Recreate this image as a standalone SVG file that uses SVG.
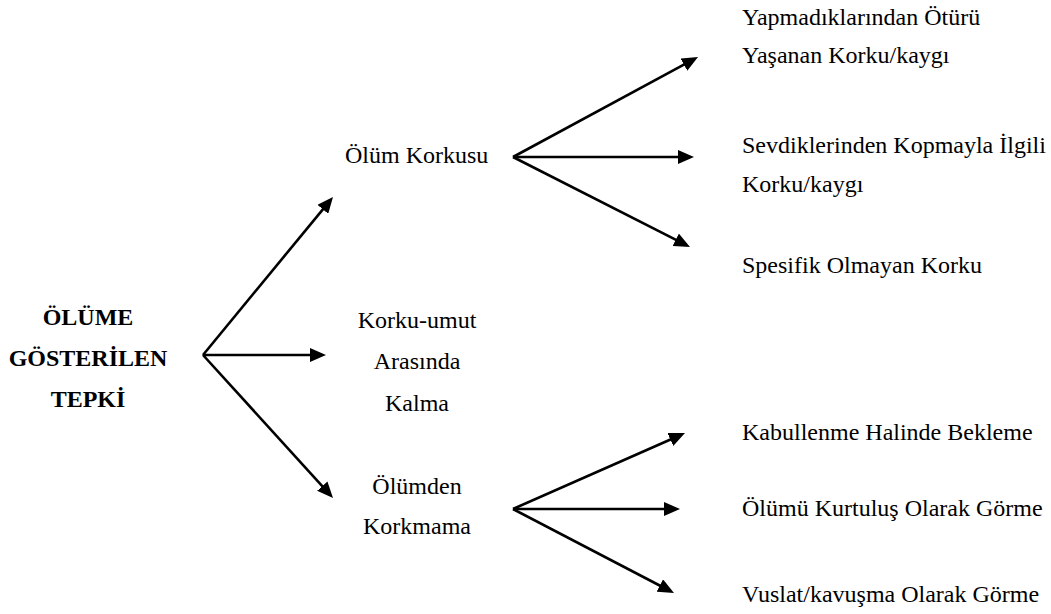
<svg xmlns="http://www.w3.org/2000/svg" width="1051" height="614" viewBox="0 0 1051 614">
<style>
text{font-family:"Liberation Serif","Times New Roman",serif;font-size:24px;fill:#000}
.b{font-weight:bold}
.c{text-anchor:middle}
.ln{stroke:#000;stroke-width:2.6;fill:none;marker-end:url(#ah)}
</style>
<defs>
<marker id="ah" markerUnits="userSpaceOnUse" markerWidth="16" markerHeight="14" refX="2" refY="7" orient="auto">
<path d="M0,0 L16,7 L0,14 z" fill="#000"/>
</marker>
</defs>
<rect width="1051" height="614" fill="#fff"/>
<g id="connectors">
<line class="ln" x1="203" y1="355" x2="324.1" y2="207.8"/>
<line class="ln" x1="203" y1="355" x2="312" y2="355"/>
<line class="ln" x1="203" y1="355" x2="323.6" y2="487.6"/>
<line class="ln" x1="513" y1="157" x2="685.7" y2="63.7"/>
<line class="ln" x1="513" y1="157" x2="680" y2="157"/>
<line class="ln" x1="513" y1="157" x2="677.5" y2="240.7"/>
<line class="ln" x1="513" y1="509" x2="672.2" y2="438.7"/>
<line class="ln" x1="513" y1="509" x2="666" y2="509"/>
<line class="ln" x1="513" y1="509" x2="661.6" y2="586.5"/>
</g>
<g id="root"><text class="b c" x="88" y="325">ÖLÜME</text><text class="b c" x="88" y="366">GÖSTERİLEN</text><text class="b c" x="88" y="407">TEPKİ</text></g>
<g id="olum-korkusu"><text x="345" y="163">Ölüm Korkusu</text></g>
<g id="korku-umut"><text class="c" x="417" y="328">Korku-umut</text><text class="c" x="417" y="369">Arasında</text><text class="c" x="417" y="411">Kalma</text></g>
<g id="olumden-korkmama"><text class="c" x="417" y="494">Ölümden</text><text class="c" x="417" y="534">Korkmama</text></g>
<g id="yapmadiklari"><text x="742" y="25">Yapmadıklarından Ötürü</text><text x="742" y="63">Yaşanan Korku/kaygı</text></g>
<g id="sevdikleri"><text x="742" y="153">Sevdiklerinden Kopmayla İlgili</text><text x="742" y="192">Korku/kaygı</text></g>
<g id="spesifik"><text x="742" y="273">Spesifik Olmayan Korku</text></g>
<g id="kabullenme"><text x="742" y="440">Kabullenme Halinde Bekleme</text></g>
<g id="kurtulus"><text x="742" y="516">Ölümü Kurtuluş Olarak Görme</text></g>
<g id="vuslat"><text x="742" y="602">Vuslat/kavuşma Olarak Görme</text></g>
</svg>
